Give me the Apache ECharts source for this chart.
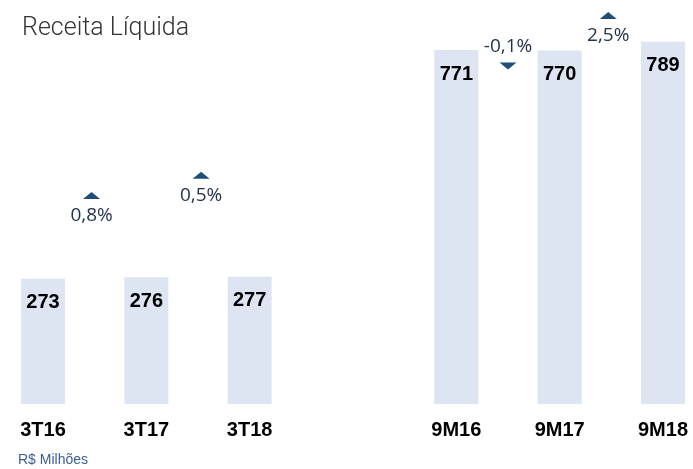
<!DOCTYPE html>
<html>
<head>
<meta charset="utf-8">
<script src="https://cdn.jsdelivr.net/npm/echarts@6/dist/echarts.min.js"></script>
<style>
  html, body { margin: 0; padding: 0; background: #fff; }
  #chart { width: 693px; height: 469px; }
</style>
</head>
<body>
<div id="chart"></div>
<script>
// receita liquida, R$ milhoes
var categories = ["3T16", "3T17", "3T18", "", "9M16", "9M17", "9M18"];
var revenue = [273, 276, 277, null, 771, 770, 789];

// variacoes entre periodos (posicao no eixo x entre as barras)
var growthX = [0.47, 1.53, 4.5, 5.47];
var growthY = [454, 498, 736, 846];
var growthLabels = ["0,8%", "0,5%", "-0,1%", "2,5%"];
var growthUp = [true, true, false, true];

var chart = echarts.init(document.getElementById("chart"));

var growthData = growthX.map(function (x, i) {
  return {
    value: [x, growthY[i]],
    symbolRotate: growthUp[i] ? 0 : 180,
    label: {
      show: true,
      formatter: growthLabels[i],
      position: growthUp[i] ? "bottom" : "top",
      distance: 7,
    },
  };
});

var option = {
  animation: false,
  title: {
    text: "Receita Líquida",
    left: 17,
    top: 11,
    textStyle: {
      fontFamily: "Roboto",
      fontWeight: 300,
      fontSize: 25,
      color: "#333333",
    },
  },
  graphic: [
    {
      type: "text",
      left: 18,
      top: 453,
      style: {
        text: "R$ Milhões",
        font: "14px 'Liberation Sans'",
        fill: "#3b5e95",
      },
    },
  ],
  grid: {
    left: 43,
    right: 30,
    top: 0,
    bottom: 65,
    outerBoundsMode: "none",
  },
  xAxis: [
    {
      type: "category",
      data: categories,
      boundaryGap: false,
      axisLine: { show: false },
      axisTick: { show: false },
      splitLine: { show: false },
      axisLabel: {
        margin: 16,
        fontFamily: "Liberation Sans",
        fontWeight: "bold",
        fontSize: 20,
        color: "#000",
        interval: 0,
      },
    },
    {
      // eixo auxiliar so pras setas de variacao
      type: "value",
      min: 0,
      max: 6,
      show: false,
    },
  ],
  yAxis: {
    type: "value",
    min: 0,
    max: 880,
    show: false,
  },
  series: [
    {
      type: "bar",
      data: revenue,
      barWidth: 44,
      clip: false,
      itemStyle: { color: "#dce5f1" },
      label: {
        show: true,
        position: "insideTop",
        distance: 14,
        fontFamily: "Liberation Sans",
        fontWeight: "bold",
        fontSize: 20,
        color: "#000",
      },
    },
    {
      type: "scatter",
      xAxisIndex: 1,
      symbol: "triangle",
      symbolSize: [17, 7],
      itemStyle: { color: "#1f4e79", opacity: 1 },
      label: {
        fontFamily: "Open Sans",
        fontSize: 19,
        color: "#23344c",
        opacity: 1,
      },
      data: growthData,
    },
  ],
};

chart.setOption(option);
</script>
</body>
</html>
